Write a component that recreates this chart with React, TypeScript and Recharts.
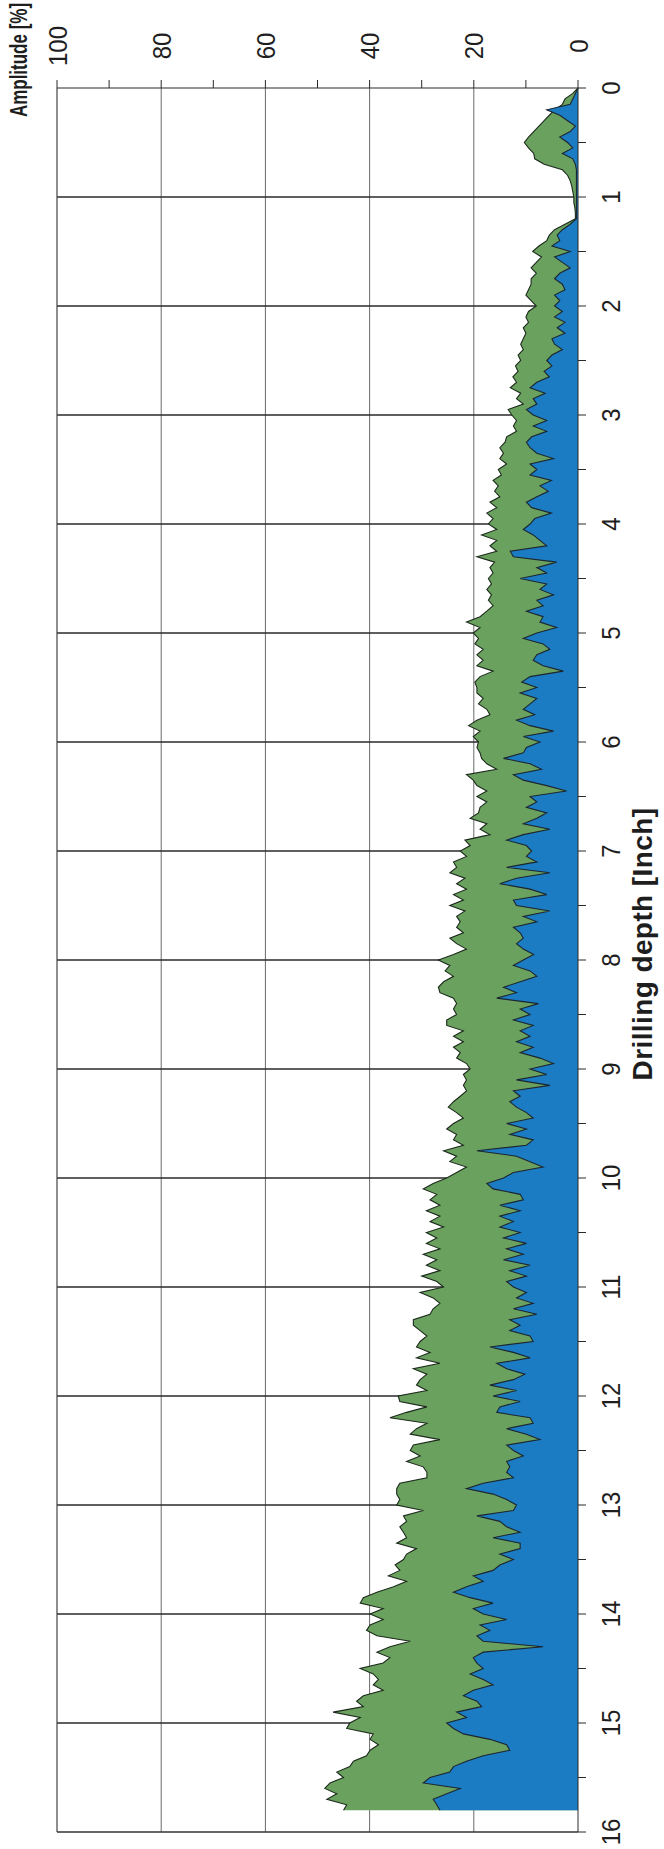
import { AreaChart, Area, XAxis, YAxis, ReferenceLine } from 'recharts'

// readings every 0.05 inch, from 0 to 15.8 inch
const DEPTH_STEP = 0.05

// total amplitude (green), one row per inch
const GREEN = [
  0, 1, 2.5, 3, 4.5, 5.5, 6.5, 7.5, 8.5, 9.5, 10.3, 9.5, 8.5, 8.3, 6.5, 3, 2, 1.5, 1.2, 1,
  0.8, 0.8, 0.6, 0.5, 0.5, 2.5, 4.5, 5.5, 6, 7.5, 8.7, 7, 8, 9, 8, 9, 9, 9.5, 10, 9,
  8, 9.5, 10, 9.5, 10.5, 10, 10.5, 11, 10.5, 11.5, 11, 12, 11.5, 12.5, 11.8, 13, 11, 11.8, 10.5, 13.4,
  12.7, 11.8, 12.4, 11.8, 13.7, 14, 15, 14.3, 15, 13.7, 15.3, 14.7, 16.3, 15.3, 16, 15, 16.9, 15.6, 17.5, 16.3,
  17.2, 15.6, 18.5, 15.6, 16.9, 15.6, 19.4, 16, 16.9, 16.3, 17.2, 16.6, 17.5, 16.6, 17.2, 16.3, 17.5, 18.8, 21.4, 18.8,
  20.1, 19.1, 19.8, 18.2, 19.4, 18.2, 19.4, 16.3, 18.8, 19.8, 19.4, 19.4, 18.2, 19.1, 17.5, 16.9, 19.4, 21, 18.8, 20.1,
  19.1, 19.4, 18.8, 18.5, 17.5, 15.6, 21.4, 20.1, 19.4, 17.5, 19.4, 17.5, 18.8, 19.1, 20.7, 17.5, 18.8, 16.9, 21.7, 20.7,
  22.6, 21.4, 23.9, 23.3, 24.6, 21.7, 23.3, 21.4, 23.9, 22, 24.6, 21.7, 23.3, 22.6, 23.3, 22, 24.6, 23.3, 21.4, 23.9,
  26.8, 24.6, 25.5, 23.9, 25.8, 26.8, 26.5, 23.9, 23.3, 23.9, 23.3, 25.2, 25.2, 22, 23.9, 22, 23.9, 22.6, 23.3, 21.4,
  20.7, 22, 21.4, 22, 21.4, 22.6, 23.9, 24.9, 23.3, 22, 23.9, 25.2, 23.3, 23.9, 22, 25.8, 23.3, 24.6, 21.4, 23.3,
  25.2, 27.8, 29.7, 27.1, 28.4, 26.5, 29.1, 26.5, 28.4, 25.8, 29.1, 27.1, 29.1, 26.5, 29.7, 27.1, 29.1, 26.5, 30, 27.1,
  25.8, 30.3, 27.8, 26.5, 27.8, 28.4, 31.6, 31.6, 30.3, 29, 30.3, 31, 28.4, 31, 26.5, 31.6, 29, 30.3, 31, 29,
  34.5, 34.2, 29, 32.9, 36.1, 29, 31, 32.2, 26.5, 31.6, 32.2, 30.3, 32.9, 29.7, 29, 29, 34.2, 34.8, 34.8, 34.2,
  34.8, 29.7, 33.5, 32.9, 34.2, 33.5, 32.9, 34.8, 31, 32.9, 33.5, 35.1, 34.2, 36.4, 32.9, 35.4, 38.6, 41.2, 41.8, 37.4,
  39.9, 37.4, 39.9, 40.6, 38.6, 32.2, 36.1, 38.6, 36.1, 37.4, 41.8, 39.3, 38.3, 39.3, 37.4, 41.2, 42.5, 41.2, 47, 41.8,
  43.8, 44.4, 39.3, 39.9, 38.3, 39.9, 40.6, 43.1, 43.8, 46.3, 45, 47.6, 48.6, 46.3, 48.2, 44.4, 45,
]

// lower amplitude (blue), same depths
const BLUE = [
  0, 0.5, 1, 1.5, 6, 3.5, 2, 0.5, 1.5, 3.5, 2, 1, 3, 1, 0.5, 0.3, 0.3, 0.3, 0.3, 0.3,
  0.3, 0.3, 0.3, 0.3, 0.3, 1.5, 3, 4, 3.5, 5, 1.5, 4.5, 3, 1.5, 3.5, 4.5, 3, 2.5, 4.5, 3.5,
  4.5, 3, 4.5, 2.5, 4, 2.5, 5, 4.5, 3, 5, 6, 5, 6.5, 5.5, 7.9, 9.2, 6.3, 8.6, 7.9, 9.9,
  8.6, 6, 8.6, 6, 8.9, 9.9, 9.2, 7.9, 4.7, 9.2, 7.9, 9.2, 5.1, 7.3, 5.7, 7.9, 9.9, 8.9, 5.1, 8.3,
  9.2, 10.5, 8.6, 7.3, 6, 13, 12.4, 4.1, 7.9, 6, 11.1, 6, 7.3, 4.7, 7.9, 6.7, 9.9, 6.7, 7.3, 4.1,
  7.9, 10.5, 6.7, 5.4, 7.9, 8.6, 6.7, 2.8, 9.2, 10.8, 7.9, 11.1, 7.9, 9.2, 10.5, 8.3, 11.8, 9.2, 4.7, 10.5,
  7.3, 9.9, 10.5, 14.3, 9.2, 7, 12.4, 10.5, 6, 2.2, 9.2, 7.9, 9.9, 6, 7.9, 10.5, 5.4, 10.5, 13.7, 9.9,
  8.9, 9.9, 7.9, 13.7, 5.4, 11.8, 15, 9.2, 6, 12.4, 11.8, 5.4, 10.5, 7.9, 12.4, 11.1, 10.5, 11.8, 10.5, 8.5,
  10.5, 12.4, 9.2, 7.9, 11.1, 14.3, 11.8, 15.6, 7.6, 11.1, 9.2, 12.4, 8.6, 11.1, 9.2, 11.8, 8.6, 11.1, 7.3, 4.7,
  9.2, 6, 11.8, 5.4, 12.4, 11.1, 13.1, 11.8, 9.9, 8.6, 13.7, 9.9, 13.1, 8.6, 9.9, 19.4, 11.8, 9.2, 6.7, 12.4,
  14.3, 17.5, 16.3, 11.1, 10.5, 15, 11.1, 15, 12.4, 15, 11.1, 14.3, 9.9, 13.7, 10.5, 14.3, 9.2, 13.1, 9.9, 13.7,
  12.4, 9.9, 11.8, 8.6, 12.4, 7.9, 13.1, 11.1, 13.1, 9.2, 8.6, 16.9, 12.4, 9.2, 15.6, 13.7, 10.2, 12.4, 16.9, 11.8,
  16.3, 11.1, 15, 15.6, 9.2, 8.6, 13.7, 9.9, 7.3, 13.7, 12.4, 10.5, 13.7, 13.1, 13.7, 12.4, 18.2, 21.4, 16.3, 13.7,
  11.8, 12.4, 19.4, 15, 13.7, 11.1, 16.3, 11.1, 11.1, 15, 12.4, 15, 16.3, 20.1, 18.2, 21.4, 23.9, 20.7, 16.3, 20.1,
  18.2, 13.7, 18.8, 16.9, 19.4, 18.2, 6.7, 18.2, 20.1, 19.4, 18.2, 20.7, 18.2, 16.3, 20.1, 22, 19.4, 18.5, 23.3, 21.4,
  25.2, 23.9, 22, 16.9, 13.7, 13.1, 18.2, 21.4, 23.9, 24.6, 28.4, 29.7, 22.6, 25.2, 27.8, 27.1, 26.5,
]

const DEPTH_TICKS = [0, 0.5, 1, 1.5, 2, 2.5, 3, 3.5, 4, 4.5, 5, 5.5, 6, 6.5, 7, 7.5, 8, 8.5, 9, 9.5, 10, 10.5, 11, 11.5, 12, 12.5, 13, 13.5, 14, 14.5, 15, 15.5, 16]
const DEPTH_LINES = [1, 2, 3, 4, 5, 6, 7, 8, 9, 10, 11, 12, 13, 14, 15]
const AMP_TICKS = [0, 10, 20, 30, 40, 50, 60, 70, 80, 90, 100]
const AMP_LINES = [20, 40, 60, 80]

const data = GREEN.map((green, i) => ({
  depth: Math.round(i * DEPTH_STEP * 100) / 100,
  green,
  blue: BLUE[i],
}))

const FONT = '"Liberation Sans", Arial, Helvetica, sans-serif'
const INK = '#1e1e1e'

function DepthTick({ x, y, payload }: any) {
  if (payload.value % 1 !== 0) return <g />
  return (
    <g transform={`translate(${x},${y + 24}) scale(1,1.1)`}>
      <text textAnchor="middle" dy="0.36em" fontSize={24} fontFamily={FONT} fill={INK}>
        {payload.value}
      </text>
    </g>
  )
}

function AmpTick({ x, y, payload }: any) {
  if (payload.value % 20 !== 0) return <g />
  return (
    <g transform={`translate(${x + 34},${y}) scale(1,1.1)`}>
      <text textAnchor="middle" dy="0.36em" fontSize={24} fontFamily={FONT} fill={INK}>
        {payload.value}
      </text>
    </g>
  )
}

function DepthTitle({ viewBox }: any) {
  const { x, y, width } = viewBox
  return (
    <text
      x={x + width / 2 + 16}
      y={y + 64}
      textAnchor="middle"
      dy="0.36em"
      fontSize={28}
      fontWeight="bold"
      letterSpacing={0.4}
      fontFamily={FONT}
      fill={INK}
    >
      Drilling depth [Inch]
    </text>
  )
}

function AmpTitle({ viewBox }: any) {
  const { x, y } = viewBox
  return (
    <g transform={`translate(${x + 28},${y - 39}) scale(1,1.45)`}>
      <text textAnchor="middle" dy="0.36em" fontSize={17} fontWeight="bold" fontFamily={FONT} fill={INK}>
        Amplitude [%]
      </text>
    </g>
  )
}

export default function App() {
  return (
    <div style={{ position: 'absolute', left: 0, top: 0, width: 664, height: 1849, overflow: 'hidden', background: '#fff' }}>
      {/* drawn lying down, then turned so the depth runs down the page */}
      <div style={{ width: 1849, height: 664, transformOrigin: '0 0', transform: 'translate(0px, 1849px) rotate(-90deg)' }}>
        <AreaChart width={1849} height={664} data={data} margin={{ top: 57, right: 28, bottom: 36, left: 17 }}>
          <XAxis
            dataKey="depth"
            type="number"
            domain={[0, 16]}
            reversed
            ticks={DEPTH_TICKS}
            interval={0}
            tickSize={8}
            tickMargin={0}
            height={50}
            stroke="#2a2a2a"
            tick={<DepthTick />}
            label={{ content: <DepthTitle /> }}
          />
          <YAxis
            orientation="right"
            type="number"
            domain={[0, 100]}
            ticks={AMP_TICKS}
            interval={0}
            tickSize={8}
            tickMargin={0}
            width={60}
            stroke="#2a2a2a"
            tick={<AmpTick />}
            label={{ content: <AmpTitle /> }}
          />
          {AMP_LINES.map((a) => (
            <ReferenceLine key={'a' + a} y={a} stroke="#6a6a6a" strokeWidth={1} zIndex={-10} />
          ))}
          {DEPTH_LINES.map((d) => (
            <ReferenceLine key={'d' + d} x={d} stroke="#2a2a2a" strokeWidth={1.3} zIndex={-10} />
          ))}
          <ReferenceLine y={100} stroke="#444" strokeWidth={1.2} zIndex={-10} />
          <ReferenceLine x={16} stroke="#333" strokeWidth={1.4} zIndex={-10} />
          <Area
            dataKey="green"
            type="linear"
            fill="#6aa15e"
            fillOpacity={1}
            stroke="#1c2a1c"
            strokeWidth={1.1}
            isAnimationActive={false}
          />
          <Area
            dataKey="blue"
            type="linear"
            fill="#1b7cc4"
            fillOpacity={1}
            stroke="#1c2630"
            strokeWidth={1.1}
            isAnimationActive={false}
          />
        </AreaChart>
      </div>
    </div>
  )
}
